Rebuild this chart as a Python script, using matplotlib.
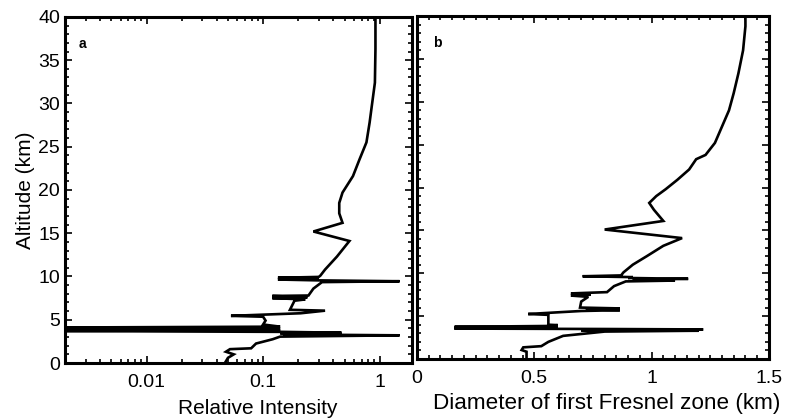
import numpy as np
import matplotlib.pyplot as plt
from matplotlib.ticker import MultipleLocator, LogLocator, FixedLocator, NullFormatter

plt.rcParams['font.family'] = ['Liberation Sans', 'DejaVu Sans']

# panel a: relative intensity profile
alt_a = [40, 36.3, 32.4, 29.4, 27.8, 25.5, 23.5, 21.6, 19.7, 18.5, 17.3, 16.2,
         15.2, 14.1, 12.3, 10.8, 10.1, 9.95, 9.85, 9.75, 9.65, 9.55, 9.45, 9.35,
         8.6, 7.8, 7.75, 7.6, 7.5, 7.35, 7.2, 6.15, 6.05, 5.75, 5.45, 5.35, 4.9,
         4.45, 4.2, 4.1, 4.0, 3.9, 3.8, 3.7, 3.6, 3.5, 3.45, 3.35, 3.3, 3.2, 3.05,
         2.75, 2.25, 1.7, 1.6, 1.3, 1.0, 0.6, 0.0]
intensity = [0.92, 0.92, 0.91, 0.85, 0.82, 0.77, 0.67, 0.59, 0.48, 0.45, 0.45, 0.48,
             0.27, 0.55, 0.43, 0.34, 0.31, 0.30, 0.134, 0.30, 0.134, 0.30, 1.48, 0.32,
             0.27, 0.245, 0.12, 0.24, 0.12, 0.23, 0.186, 0.17, 0.34, 0.21, 0.053, 0.10, 0.105,
             0.10, 0.14, 0.0015, 0.14, 0.0015, 0.14, 0.0015, 0.145, 0.47, 0.14, 0.45, 0.15, 1.48, 0.14,
             0.121, 0.087, 0.079, 0.052, 0.048, 0.056, 0.05, 0.047]

# panel b: first Fresnel zone diameter
alt_b = [40, 38.8, 36, 33.3, 31, 29, 27.1, 25.2, 23.8, 23.3, 22.1, 20.9, 19.8,
         19.0, 18.2, 17.4, 16.1, 15.1, 14.1, 13.2, 12.0, 11.0, 10.1, 9.75, 9.65,
         9.55, 9.45, 9.35, 9.25, 9.15, 9.05, 8.5, 7.8, 7.65, 7.5, 7.4, 7.25, 6.7,
         6.0, 5.9, 5.8, 5.7, 5.6, 5.25, 5.15, 4.75, 4.0, 3.95, 3.85, 3.75, 3.65,
         3.55, 3.5, 3.45, 3.35, 3.3, 3.2, 2.7, 2.0, 1.5, 1.36, 1.05, 0.85, 0.0]
fresnel = [1.40, 1.40, 1.39, 1.37, 1.35, 1.33, 1.30, 1.27, 1.23, 1.19, 1.16, 1.11, 1.06,
           1.02, 0.99, 1.01, 1.05, 0.80, 1.13, 1.05, 0.98, 0.92, 0.88, 0.87, 0.706,
           0.92, 0.90, 1.156, 0.92, 1.10, 0.89, 0.84, 0.81, 0.656, 0.74, 0.656, 0.73, 0.70,
           0.695, 0.865, 0.72, 0.865, 0.70, 0.474, 0.56, 0.56, 0.56, 0.60, 0.55, 0.16, 0.60,
           0.16, 0.80, 1.22, 0.70, 1.20, 0.80, 0.623, 0.56, 0.53, 0.453, 0.446, 0.467, 0.467]

fig = plt.figure(figsize=(7.89, 4.2), dpi=100)
ax1 = fig.add_axes([0.0824, 0.1357, 0.440, 0.824])
ax2 = fig.add_axes([0.5285, 0.1452, 0.446, 0.8167])

for ax in (ax1, ax2):
    for sp in ax.spines.values():
        sp.set_linewidth(2.2)
    ax.tick_params(which='both', direction='in', top=True, right=True, width=1.2)
    ax.tick_params(which='major', length=5, labelsize=14)
    ax.tick_params(axis='x', which='major', pad=8)
    ax.tick_params(which='minor', length=3)
    ax.set_ylim(0, 40)
    ax.yaxis.set_major_locator(MultipleLocator(5))
    ax.yaxis.set_minor_locator(MultipleLocator(1))

ax1.plot(intensity, alt_a, color='black', lw=1.9, solid_joinstyle='miter')
ax1.set_xscale('log')
ax1.set_xlim(0.002, 1.9)
ax1.xaxis.set_major_locator(FixedLocator([0.01, 0.1, 1]))
ax1.xaxis.set_minor_locator(LogLocator(base=10, subs=np.arange(2, 10)))
ax1.xaxis.set_minor_formatter(NullFormatter())
ax1.set_xticklabels(['0.01', '0.1', '1'])
ax1.set_xlabel('Relative Intensity', fontsize=15)
ax1.xaxis.set_label_coords(0.556, -0.104)
ax1.xaxis.label.set_va('top')
ax1.set_ylabel('Altitude (km)', fontsize=15, labelpad=2)
ax1.text(0.04, 0.91, 'a', transform=ax1.transAxes, fontsize=10, fontweight='bold')

ax2.plot(fresnel, alt_b, color='black', lw=1.9, solid_joinstyle='miter')
ax2.set_xlim(0, 1.5)
ax2.xaxis.set_major_locator(FixedLocator([0, 0.5, 1, 1.5]))
ax2.xaxis.set_minor_locator(MultipleLocator(0.05))
ax2.set_xticklabels(['0', '0.5', '1', '1.5'])
ax2.tick_params(axis='y', labelleft=False)
ax2.set_xlabel('Diameter of first Fresnel zone (km)', fontsize=16.2)
ax2.xaxis.set_label_coords(0.54, -0.1)
ax2.xaxis.label.set_va('top')
ax2.text(0.045, 0.91, 'b', transform=ax2.transAxes, fontsize=10, fontweight='bold')

fig.savefig('out.png', dpi=100)
